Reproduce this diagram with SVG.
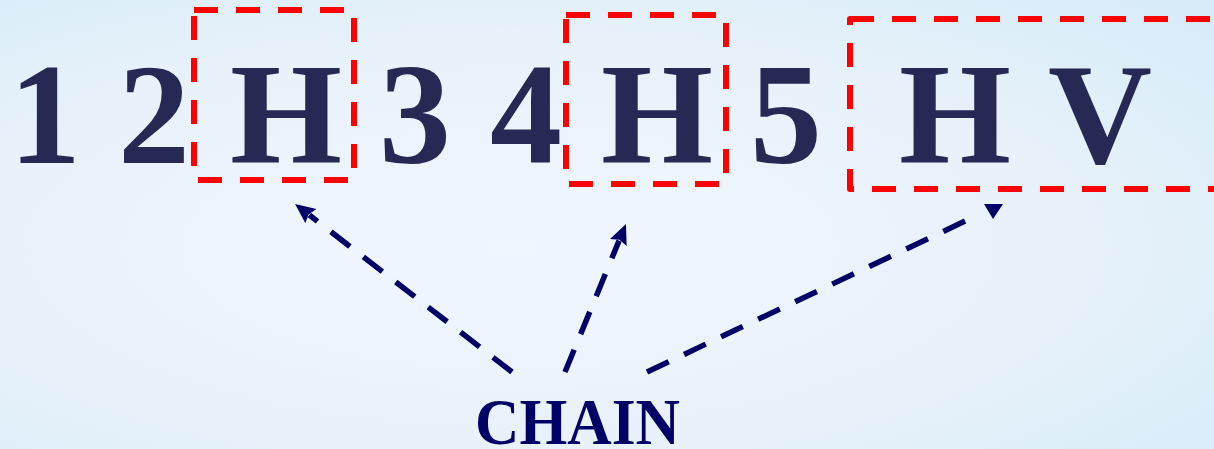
<svg xmlns="http://www.w3.org/2000/svg" width="1214" height="449" viewBox="0 0 1214 449">
  <defs>
    <radialGradient id="bg" cx="0.42" cy="0.55" r="0.75">
      <stop offset="0" stop-color="#f0f6fd"/>
      <stop offset="0.6" stop-color="#e8f2fb"/>
      <stop offset="1" stop-color="#d8ecf8"/>
    </radialGradient>
    <marker id="head" markerUnits="userSpaceOnUse" markerWidth="22" markerHeight="20" viewBox="0 -10 22 20" refX="2" refY="0" orient="auto">
      <path d="M0,-9 L20,0 L0,9 L3,0 z" fill="#000066"/>
    </marker>
    <style>
      .big { font-family: "Liberation Serif", "Times New Roman", serif; font-weight: bold; font-size: 144px; fill: #262953; text-anchor: middle; }
      .box { fill: none; stroke: #ff0000; stroke-width: 6; stroke-dasharray: 24 18; stroke-linejoin: round; }
      .conn { fill: none; stroke: #000066; stroke-width: 5.5; stroke-dasharray: 24 17; }
      .label { font-family: "Liberation Serif", "Times New Roman", serif; font-weight: bold; font-size: 66px; fill: #000066; }
    </style>
  </defs>
  <rect x="0" y="0" width="1214" height="449" fill="url(#bg)"/>

  <g id="sequence">
    <text class="big" x="45" y="163">1</text>
    <text class="big" x="154" y="163">2</text>
    <text class="big" x="415" y="163">3</text>
    <text class="big" x="526" y="163">4</text>
    <text class="big" x="786" y="163">5</text>
  </g>

  <g id="box-1">
    <rect class="box" x="194" y="10" width="160" height="170"/>
    <text class="big" x="286" y="163">H</text>
  </g>
  <g id="box-2">
    <rect class="box" x="566" y="15" width="160" height="169"/>
    <text class="big" x="657" y="163">H</text>
  </g>
  <g id="box-3">
    <rect class="box" x="850" y="19" width="400" height="170"/>
    <text class="big" x="955" y="163">H</text>
    <text class="big" x="1100" y="163">V</text>
  </g>

  <g id="label-chain">
    <text class="label" x="475" y="444" textLength="205" lengthAdjust="spacingAndGlyphs">CHAIN</text>
  </g>

  <g id="connectors">
    <line class="conn" x1="512" y1="372" x2="309.3" y2="215" marker-end="url(#head)"/>
    <line class="conn" x1="565" y1="372" x2="619.1" y2="240.6" marker-end="url(#head)"/>
    <line class="conn" x1="647" y1="372" x2="980" y2="214"/>
    <polygon points="984,204 1003,204 993,219" fill="#000066"/>
  </g>
</svg>
